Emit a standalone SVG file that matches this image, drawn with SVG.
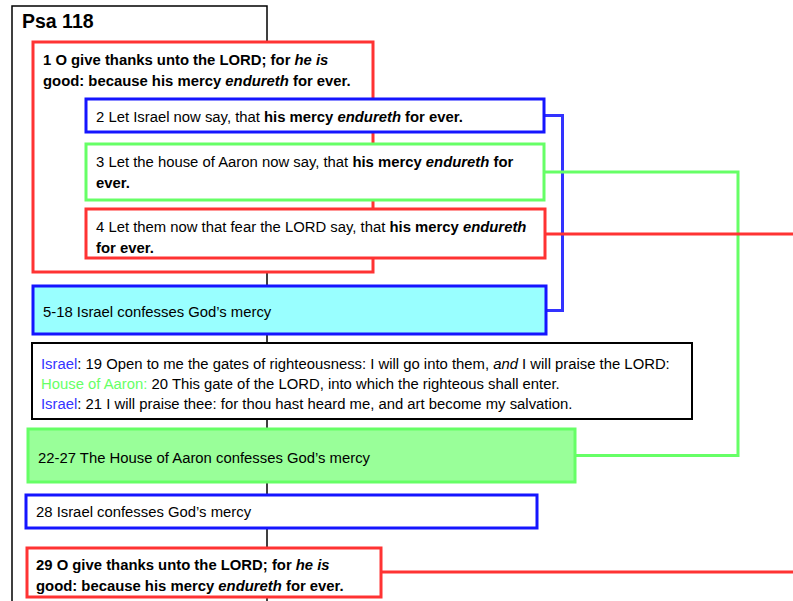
<svg xmlns="http://www.w3.org/2000/svg" width="793" height="601" viewBox="0 0 793 601">
<style>
text{font-family:"Liberation Sans",Arial,sans-serif;font-size:14.85px;fill:#000;}
.title{font-size:19.5px;font-weight:bold;}
.b{font-weight:bold;}
.i{font-style:italic;}
.red{fill:#fff;stroke:#ff3333;stroke-width:3;}
.blue{fill:#fff;stroke:#1515ff;stroke-width:3;}
.green{fill:#fff;stroke:#66ff66;stroke-width:3;}
.frame{fill:#fff;stroke:#000;stroke-width:1.5;}
.isr{fill:#3333ff;}
.aar{fill:#66ff66;}
.conn{fill:none;stroke-width:3;}
</style>
<g id="psa118">
<rect class="frame" x="12" y="6" width="255" height="620"/>
<text class="title" x="22" y="28">Psa 118</text>
</g>
<g id="connectors">
<path class="conn" stroke="#3333ff" d="M544,115.5 H562.5 V310.5 H546"/>
<path class="conn" stroke="#66ff66" d="M544,172 H738 V455.5 H575"/>
<path class="conn" stroke="#ff3333" d="M545,234 H795"/>
<path class="conn" stroke="#ff3333" d="M381,572 H795"/>
</g>
<g id="v1">
<rect class="red" x="33" y="42" width="340" height="230"/>
<text class="b" x="43" y="65">1 O give thanks unto the LORD; for <tspan class="i">he is</tspan></text>
<text class="b" x="43" y="86">good: because his mercy <tspan class="i">endureth</tspan> for ever.</text>
</g>
<g id="v2">
<rect class="blue" x="86" y="99" width="458" height="33"/>
<text x="96" y="121.5">2 Let Israel now say, that <tspan class="b">his mercy <tspan class="i">endureth</tspan> for ever.</tspan></text>
</g>
<g id="v3">
<rect class="green" x="86" y="144" width="458" height="56"/>
<text x="96" y="166.5">3 Let the house of Aaron now say, that <tspan class="b">his mercy <tspan class="i">endureth</tspan> for</tspan></text>
<text class="b" x="96" y="187.5">ever.</text>
</g>
<g id="v4">
<rect class="red" x="86" y="209" width="459" height="49"/>
<text x="96" y="231.5">4 Let them now that fear the LORD say, that <tspan class="b">his mercy <tspan class="i">endureth</tspan></tspan></text>
<text class="b" x="96" y="252.5">for ever.</text>
</g>
<g id="v5-18">
<rect class="blue" x="33" y="286" width="513" height="48" style="fill:#99ffff"/>
<text x="43" y="316.5">5-18 Israel confesses God’s mercy</text>
</g>
<g id="v19-21">
<rect x="32" y="343" width="660" height="76" fill="#fff" stroke="#000" stroke-width="2"/>
<text x="41" y="368.5"><tspan class="isr">Israel</tspan>: 19 Open to me the gates of righteousness: I will go into them, <tspan class="i">and</tspan> I will praise the LORD:</text>
<text x="41" y="388.5"><tspan class="aar">House of Aaron:</tspan> 20 This gate of the LORD, into which the righteous shall enter.</text>
<text x="41" y="408.5"><tspan class="isr">Israel</tspan>: 21 I will praise thee: for thou hast heard me, and art become my salvation.</text>
</g>
<g id="v22-27">
<rect class="green" x="28" y="429" width="547" height="53" style="fill:#99ff99"/>
<text x="38" y="462.5">22-27 The House of Aaron confesses God’s mercy</text>
</g>
<g id="v28">
<rect class="blue" x="26" y="495" width="511" height="33"/>
<text x="36" y="517">28 Israel confesses God’s mercy</text>
</g>
<g id="v29">
<rect class="red" x="27" y="548" width="354" height="49"/>
<text class="b" x="36" y="570">29 O give thanks unto the LORD; for <tspan class="i">he is</tspan></text>
<text class="b" x="36" y="591">good: because his mercy <tspan class="i">endureth</tspan> for ever.</text>
</g>
</svg>
